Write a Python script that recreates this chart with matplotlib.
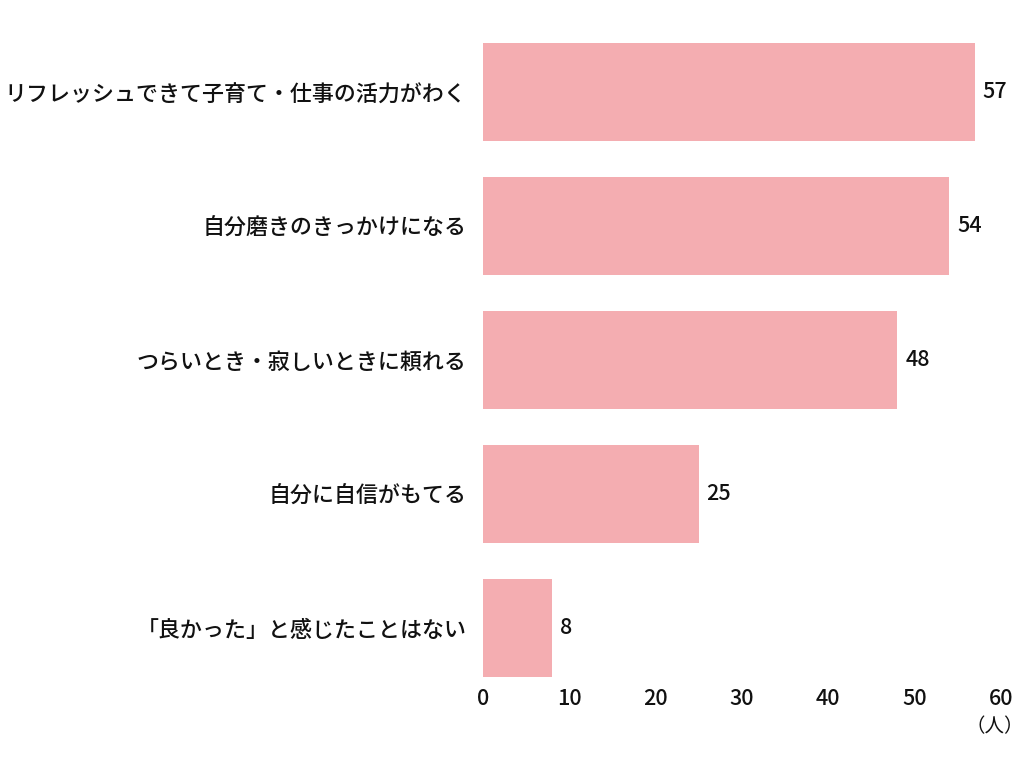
import matplotlib
matplotlib.use("Agg")
import matplotlib.pyplot as plt

plt.rcParams['font.family'] = ['Noto Sans CJK JP', 'DejaVu Sans']

categories = [
    "リフレッシュできて子育て・仕事の活力がわく",
    "自分磨きのきっかけになる",
    "つらいとき・寂しいときに頼れる",
    "自分に自信がもてる",
    "「良かった」と感じたことはない",
]
values = [57, 54, 48, 25, 8]
xticks = [0, 10, 20, 30, 40, 50, 60]
unit_label = "（人）"

fig = plt.figure(figsize=(10.24, 7.68), dpi=100)
ax = fig.add_axes([483/1024, 1 - 679.6/768, (1001-483)/1024, (679.6-12)/768])

ypos = list(range(len(categories)))
ax.barh(ypos, values, height=0.73, color="#f4adb1", edgecolor="none")
for y, v in zip(ypos, values):
    ax.text(v + 0.9, y, str(v), va="center", ha="left", fontsize=15.5,
            fontweight="medium", color="#111111")

ax.set_xlim(0, 60)
ax.set_ylim(4.385, -0.6)
ax.set_xticks(xticks)
ax.set_xticklabels([str(t) for t in xticks], fontsize=15.5, fontweight="medium", color="#111111")
ax.set_yticks(ypos)
ax.set_yticklabels(categories, fontsize=15.8, fontweight="medium", color="#111111")
ax.tick_params(axis="x", length=0, pad=6)
ax.tick_params(axis="y", length=0, pad=12)
for s in ax.spines.values():
    s.set_visible(False)

fig.text(995/1024, 1 - 727/768, unit_label, ha="center", va="center", fontsize=14, color="#111111")

fig.savefig("out.png", dpi=100, facecolor="white")
